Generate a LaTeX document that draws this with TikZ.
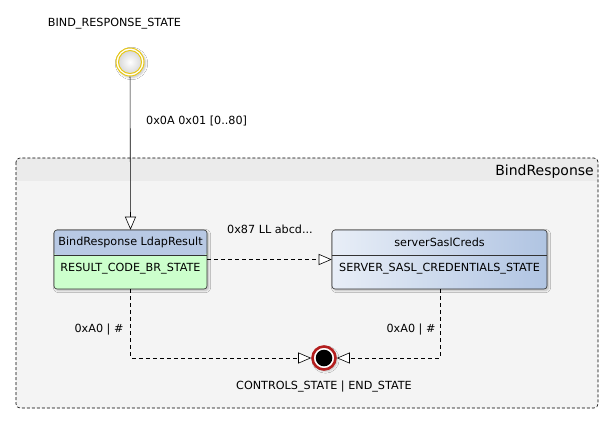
\documentclass[tikz,border=0pt]{standalone}
\usepackage{fontspec}
\setmainfont{DejaVu Sans}
\usetikzlibrary{arrows.meta,shadows.blur}
\definecolor{hdrblue}{RGB}{184,201,228}
\definecolor{bodygreen}{RGB}{204,255,204}
\definecolor{lightblue}{RGB}{232,238,247}
\definecolor{deepblue}{RGB}{176,196,226}
\definecolor{contbody}{RGB}{244,244,244}
\definecolor{conthead}{RGB}{235,235,235}
\definecolor{inityellow}{RGB}{232,200,20}
\definecolor{endred}{RGB}{180,30,30}
\tikzset{
  lbl/.style={inner sep=0pt, font=\fontsize{11.2}{13}\selectfont},
  conn/.style={draw, line width=0.6pt, -{Triangle[length=13pt,width=11pt,fill=white,line width=0.6pt]}},
  dconn/.style={conn, dash pattern=on 4pt off 3pt},
  statebox/.style={rectangle, rounded corners=3pt, draw=black!80, line width=0.6pt,
    minimum height=59pt, inner sep=0pt, blur shadow={shadow blur steps=5, shadow xshift=1.5pt, shadow yshift=-1.5pt, shadow opacity=25}}
}
\begin{document}
\begin{tikzpicture}[x=1pt,y=-1pt]
\useasboundingbox[fill=white] (0,0) rectangle (612,424);
% container
\path[fill=contbody, rounded corners=4pt] (16,158) rectangle (598,408);
\path[fill=conthead, rounded corners=4pt] (16,158) rectangle (598,170);
\path[fill=conthead] (16.3,166) rectangle (597.7,181);
\draw[dash pattern=on 3pt off 2pt, line width=0.6pt, rounded corners=4pt] (16,158) rectangle (598,408);
\node[anchor=east, inner sep=0pt, font=\fontsize{14}{16}\selectfont] (title) at (594,172) {BindResponse};

% initial state
\node[circle, minimum size=28pt, draw=inityellow, line width=1pt, inner sep=0pt,
  blur shadow={shadow blur steps=5, shadow xshift=1.5pt, shadow yshift=-1.5pt, shadow opacity=25}, fill=white] (init) at (130,62) {};
\path[draw=inityellow, line width=1pt, inner color=white, outer color=black!15] (130,62) circle (11.5);
\node[lbl] (initlbl) at (114.5,24) {BIND\_RESPONSE\_STATE};

% box 1
\node[statebox, minimum width=153pt, fill=bodygreen,
  path picture={\fill[hdrblue] (path picture bounding box.north west) rectangle ([yshift=-25pt]path picture bounding box.north east);
  \draw[black!80, line width=0.6pt] ([yshift=-25pt]path picture bounding box.north west) -- ([yshift=-25pt]path picture bounding box.north east);}
  ] (box1) at (130.5,259.5) {};
\node[lbl] (box1h) at (130.5,242.5) {BindResponse LdapResult};
\node[lbl] (box1b) at (130.5,268.5) {RESULT\_CODE\_BR\_STATE};

% box 2
\node[statebox, minimum width=215pt, left color=lightblue, right color=deepblue,
  path picture={\draw[black!80, line width=0.6pt] ([yshift=-25pt]path picture bounding box.north west) -- ([yshift=-25pt]path picture bounding box.north east);}
  ] (box2) at (439.5,259.5) {};
\node[lbl] (box2h) at (439.5,242.5) {serverSaslCreds};
\node[lbl] (box2b) at (439.5,268.5) {SERVER\_SASL\_CREDENTIALS\_STATE};

% end state
\node[circle, minimum size=23pt, draw=endred, line width=2.6pt, fill=white, inner sep=0pt,
  blur shadow={shadow blur steps=5, shadow xshift=1.5pt, shadow yshift=-1.5pt, shadow opacity=25}] (end) at (324,358) {};
\fill[black] (end.center) circle (8.3);
\node[lbl] (endlbl) at (324,387) {CONTROLS\_STATE | END\_STATE};

% connectors
\draw[conn] (init) -- (box1.north);
\node[lbl, anchor=west] (l1) at (146,121) {0x0A 0x01 [0..80]};

\draw[dconn] (box1.east) -- (box2.west);
\node[lbl] (l2) at (270,229) {0x87 LL abcd...};

\draw[dconn] (box1.south) |- (end);
\node[lbl] (l3) at (99,330) {0xA0 | \#};

\draw[dconn] (box2.south -| 440,0) |- (end);
\node[lbl] (l4) at (411,330) {0xA0 | \#};
\end{tikzpicture}
\end{document}
